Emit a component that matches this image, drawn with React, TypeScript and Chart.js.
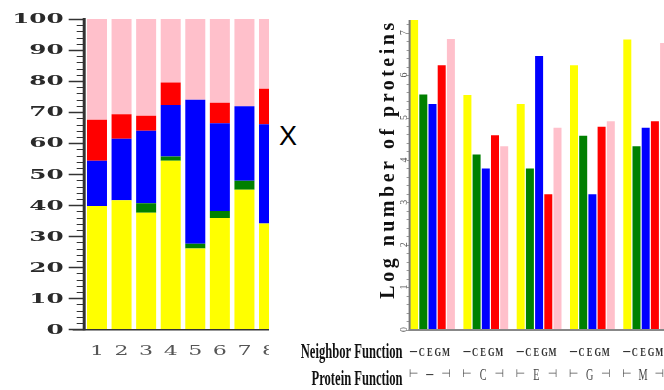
import React, { useEffect, useRef } from "react";
import { Chart, registerables } from "chart.js";

Chart.register(...registerables);

// ---------- Left chart data (stacked percentages) ----------
const leftCategories = ["1", "2", "3", "4", "5", "6", "7", "8"];
const leftYellow = [39.7, 41.6, 37.6, 54.3, 26.0, 35.9, 45.0, 34.1];
const leftGreen = [0, 0, 3.0, 1.4, 1.6, 2.2, 2.9, 0];
const leftBlue = [14.6, 19.8, 23.4, 16.6, 46.4, 28.3, 24.0, 32.0];
const leftRed = [13.2, 7.9, 4.8, 7.2, 0, 6.6, 0, 11.4];
const leftPink = [32.5, 30.7, 31.2, 20.5, 26.0, 27.0, 28.1, 22.5];
const leftTicks = [0, 10, 20, 30, 40, 50, 60, 70, 80, 90, 100];

// ---------- Right chart data (log number of proteins) ----------
const proteinFunctions = ["–", "C", "E", "G", "M"];
const neighborFunctions = ["–", "C", "E", "G", "M"];
const rightYellow = [7.3, 5.53, 5.32, 6.23, 6.84];
const rightGreen = [5.54, 4.13, 3.8, 4.57, 4.32];
const rightBlue = [5.32, 3.8, 6.45, 3.19, 4.76];
const rightRed = [6.23, 4.58, 3.19, 4.78, 4.91];
const rightPink = [6.85, 4.32, 4.76, 4.91, 6.76];
const rightTicks = [0, 1, 2, 3, 4, 5, 6, 7];

const YELLOW = "#ffff00";
const GREEN = "#008000";
const BLUE = "#0000ff";
const RED = "#ff0000";
const PINK = "#ffc0cb";

const leftAxesPlugin = {
  id: "leftAxes",
  afterDraw(chart: any) {
    const { ctx, chartArea: a, scales } = chart;
    const x = scales.x;
    const y = scales.y;
    ctx.save();
    ctx.strokeStyle = "#333";
    for (let v = 0; v <= 100; v += 2) {
      const py = Math.round(y.getPixelForValue(v)) + 0.5;
      const major = v % 10 === 0;
      ctx.lineWidth = major ? 1.5 : 1;
      ctx.beginPath();
      ctx.moveTo(a.left - (major ? 16 : 8), py);
      ctx.lineTo(a.left, py);
      ctx.stroke();
    }
    ctx.lineWidth = 3;
    ctx.beginPath();
    ctx.moveTo(a.left - 0.5, a.top - 1);
    ctx.lineTo(a.left - 0.5, a.bottom + 1);
    ctx.stroke();
    ctx.lineWidth = 1.5;
    ctx.beginPath();
    ctx.moveTo(a.left - 12, a.bottom + 0.5);
    ctx.lineTo(chart.width, a.bottom + 0.5);
    ctx.stroke();
    leftTicks.forEach((v) => {
      const py = y.getPixelForValue(v);
      ctx.save();
      ctx.translate(a.left - 21, py + 1);
      ctx.scale(1.9, 1);
      ctx.font = 'bold 13px "DejaVu Serif"';
      ctx.textAlign = "right";
      ctx.textBaseline = "middle";
      ctx.fillStyle = "#2a2a2a";
      ctx.fillText(String(v), 0, 0);
      ctx.restore();
    });
    leftCategories.forEach((c, i) => {
      const px = x.getPixelForValue(i);
      ctx.save();
      ctx.translate(px, 352);
      ctx.scale(1.7, 1);
      ctx.font = '13px "DejaVu Serif"';
      ctx.textAlign = "center";
      ctx.textBaseline = "middle";
      ctx.fillStyle = "#555";
      ctx.fillText(c, 0, 0);
      ctx.restore();
    });
    ctx.restore();
  },
};

const rightAxesPlugin = {
  id: "rightAxes",
  afterDraw(chart: any) {
    const { ctx, chartArea: a, scales } = chart;
    const y = scales.y;
    const b0 = chart.getDatasetMeta(0).data[0];
    const ax = b0.x - b0.width / 2 - 0.5;
    const y0 = y.getPixelForValue(0);
    ctx.save();
    ctx.strokeStyle = "#999";
    ctx.lineWidth = 1;
    for (let v = 0; v <= 7.25; v += 0.2) {
      const py = Math.round(y.getPixelForValue(v)) + 0.5;
      ctx.beginPath();
      ctx.moveTo(ax - 3, py);
      ctx.lineTo(ax, py);
      ctx.stroke();
    }
    ctx.strokeStyle = "#777";
    ctx.lineWidth = 2;
    ctx.beginPath();
    ctx.moveTo(ax, a.top);
    ctx.lineTo(ax, y0 + 1);
    ctx.stroke();
    ctx.strokeStyle = "#888";
    ctx.beginPath();
    ctx.moveTo(ax - 1, y0 + 0.5);
    ctx.lineTo(chart.width, y0 + 0.5);
    ctx.stroke();
    rightTicks.forEach((v) => {
      const py = y.getPixelForValue(v);
      ctx.save();
      ctx.translate(ax - 5.5, py);
      ctx.rotate(-Math.PI / 2);
      ctx.font = '10px "Liberation Serif"';
      ctx.textAlign = "center";
      ctx.textBaseline = "middle";
      ctx.fillStyle = "#555";
      ctx.fillText(String(v), 0, 0);
      ctx.restore();
    });
    ctx.save();
    ctx.translate(ax - 16, 159);
    ctx.rotate(-Math.PI / 2);
    ctx.font = 'bold 20px "Liberation Serif"';
    (ctx as any).letterSpacing = "3.5px";
    ctx.textAlign = "center";
    ctx.textBaseline = "alphabetic";
    ctx.fillStyle = "#111";
    ctx.fillText("Log number of proteins", 0, 0);
    ctx.restore();
    const rowTitle = (t: string, by: number) => {
      ctx.save();
      ctx.translate(ax - 7, by);
      ctx.scale(0.6, 1);
      ctx.font = 'bold 21px "Liberation Serif"';
      ctx.textAlign = "right";
      ctx.textBaseline = "alphabetic";
      ctx.fillStyle = "#111";
      ctx.fillText(t, 0, 0);
      ctx.restore();
    };
    rowTitle("Neighbor Function", 358);
    rowTitle("Protein Function", 385);
    for (let g = 0; g < proteinFunctions.length; g++) {
      const bars = [0, 1, 2, 3, 4].map((k) => chart.getDatasetMeta(k).data[g]);
      const x0 = bars[0].x;
      const pos = (k: number) => x0 + (bars[k].x - x0) * 0.88 - 0.5;
      neighborFunctions.forEach((lab, k) => {
        ctx.save();
        ctx.translate(pos(k), lab === "–" ? 354.5 : 356);
        if (lab === "–") {
          ctx.font = 'bold 14px "Liberation Serif"';
          ctx.fillStyle = "#222";
        } else {
          ctx.scale(0.68, 1);
          ctx.font = 'bold 12.5px "Liberation Serif"';
          ctx.fillStyle = "#333";
        }
        ctx.textAlign = "center";
        ctx.textBaseline = "alphabetic";
        ctx.fillText(lab, 0, 0);
        ctx.restore();
      });
      ctx.save();
      ctx.font = '11px "DejaVu Sans"';
      ctx.fillStyle = "#555";
      ctx.textAlign = "center";
      ctx.textBaseline = "middle";
      ctx.fillText("⊢", pos(0), 374);
      ctx.fillText("⊣", pos(4), 374);
      ctx.restore();
      const mid = proteinFunctions[g];
      ctx.save();
      ctx.translate(pos(2), mid === "–" ? 378 : 380);
      if (mid === "–") {
        ctx.font = 'bold 14px "Liberation Serif"';
        ctx.fillStyle = "#333";
      } else {
        ctx.scale(0.6, 1);
        ctx.font = '17px "Liberation Serif"';
        ctx.fillStyle = "#444";
      }
      ctx.textAlign = "center";
      ctx.textBaseline = "alphabetic";
      ctx.fillText(mid, 0, 0);
      ctx.restore();
    }
    ctx.restore();
  },
};

export default function App() {
  const leftRef = useRef<HTMLCanvasElement | null>(null);
  const rightRef = useRef<HTMLCanvasElement | null>(null);

  useEffect(() => {
    const mk = (label: string, data: number[], color: string) => ({
      label,
      data,
      backgroundColor: color,
      borderWidth: 0,
      barPercentage: 0.814,
      categoryPercentage: 1,
    });
    const left = new Chart(leftRef.current as HTMLCanvasElement, {
      type: "bar",
      data: {
        labels: leftCategories,
        datasets: [
          mk("yellow", leftYellow, YELLOW),
          mk("green", leftGreen, GREEN),
          mk("blue", leftBlue, BLUE),
          mk("red", leftRed, RED),
          mk("pink", leftPink, PINK),
        ],
      },
      options: {
        responsive: false,
        animation: false,
        devicePixelRatio: 1,
        layout: { padding: { left: 84.7, right: 18.7, top: 19, bottom: 60.7 } },
        plugins: { legend: { display: false }, tooltip: { enabled: false } },
        scales: {
          x: { display: false, stacked: true },
          y: { display: false, stacked: true, min: 0, max: 100 },
        },
      },
      plugins: [leftAxesPlugin],
    });

    const mk2 = (label: string, data: number[], color: string) => ({
      label,
      data,
      backgroundColor: color,
      borderWidth: 0,
      barPercentage: 0.87,
      categoryPercentage: 0.863,
    });
    const right = new Chart(rightRef.current as HTMLCanvasElement, {
      type: "bar",
      data: {
        labels: proteinFunctions,
        datasets: [
          mk2("yellow", rightYellow, YELLOW),
          mk2("green", rightGreen, GREEN),
          mk2("blue", rightBlue, BLUE),
          mk2("red", rightRed, RED),
          mk2("pink", rightPink, PINK),
        ],
      },
      options: {
        responsive: false,
        animation: false,
        devicePixelRatio: 1,
        layout: { padding: { left: 110.85, right: 22.65, top: 20, bottom: 60.5 } },
        plugins: { legend: { display: false }, tooltip: { enabled: false } },
        scales: {
          x: { display: false },
          y: { display: false, min: 0, max: 7.3 },
        },
      },
      plugins: [rightAxesPlugin],
    });

    return () => {
      left.destroy();
      right.destroy();
    };
  }, []);

  return (
    <div
      style={{
        position: "absolute",
        left: 0,
        top: 0,
        width: 664,
        height: 390,
        background: "#fff",
        overflow: "hidden",
      }}
    >
      <div style={{ position: "absolute", left: 0, top: 0, width: 269, height: 390, overflow: "hidden" }}>
        <canvas ref={leftRef} width={300} height={390} style={{ display: "block" }} />
      </div>
      <div
        style={{
          position: "absolute",
          left: 279,
          top: 122.6,
          font: '27px "Liberation Sans"',
          lineHeight: "27px",
          color: "#000",
        }}
      >
        X
      </div>
      <div style={{ position: "absolute", left: 295, top: 0, width: 369, height: 390, overflow: "hidden" }}>
        <canvas ref={rightRef} width={400} height={390} style={{ display: "block" }} />
      </div>
    </div>
  );
}
